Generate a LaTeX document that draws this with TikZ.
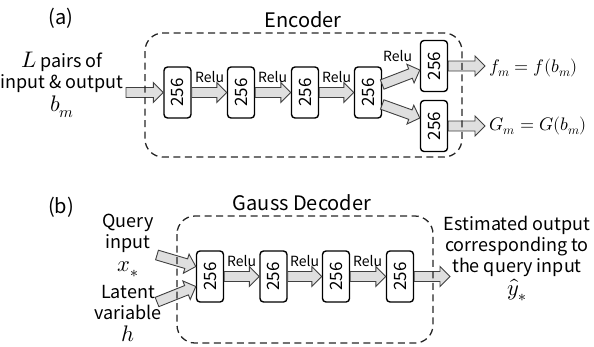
\documentclass[tikz,border=0pt]{standalone}
\usepackage{fontspec}
\usepackage{unicode-math}
\setmainfont{Noto Sans CJK JP}
\setmathfont{Latin Modern Math}[Scale=1.25]
\usetikzlibrary{calc}
\newcommand\barrow[2]{%
  \coordinate (bh) at ($(#2)!10pt!(#1)$);
  \draw[blk] ($(#1)!5pt!90:(#2)$) -- ($(bh)!5pt!-90:(#1)$) -- ($(bh)!10pt!-90:(#1)$) -- (#2)
    -- ($(bh)!10pt!90:(#1)$) -- ($(bh)!5pt!90:(#1)$) -- ($(#1)!5pt!-90:(#2)$) -- cycle;}
\begin{document}
\begin{tikzpicture}[x=1pt,y=-1pt,
  box/.style={draw=black, line width=1.4pt, rounded corners=3.5pt, fill=white, minimum width=27pt, minimum height=51pt, inner sep=0pt, font=\fontsize{17}{17}\selectfont},
  blk/.style={draw=black!75, line width=0.9pt, fill=gray!25, line join=miter},
  frame/.style={draw=black!85, line width=1.3pt, dash pattern=on 7pt off 4.5pt, rounded corners=18pt},
  lbl/.style={font=\fontsize{18}{21}\selectfont, align=center, inner sep=0pt},
  eqn/.style={font=\fontsize{14.5}{16}\selectfont, inner sep=0pt, anchor=west},
  ttl/.style={font=\fontsize{20}{22}\selectfont, inner sep=0pt},
  relu/.style={font=\fontsize{14}{14}\selectfont, inner sep=0pt, anchor=base west}]
\useasboundingbox (0,0) rectangle (594,346);
% ---------- (a) ----------
\node[ttl] (ta) at (61,18) {(a)};
\node[ttl] (enc) at (303,20) {Encoder};
\node[lbl] (ina) at (62,85) {$L$ pairs of\\input \& output\\[2pt]$b_m$};
\node[box] (a1) at (177.5,92.5) {\rotatebox{90}{256}};
\node[box] (a2) at (241,92.5) {\rotatebox{90}{256}};
\node[box] (a3) at (305,92.5) {\rotatebox{90}{256}};
\node[box] (a4) at (368,92.5) {\rotatebox{90}{256}};
\node[box] (a5) at (434,66) {\rotatebox{90}{256}};
\node[box] (a6) at (434,126) {\rotatebox{90}{256}};
\node[eqn] (fm) at (489,68) {$f_m = f(b_m)$};
\node[eqn] (gm) at (489,126) {$G_m = G(b_m)$};
\coordinate (ia) at (126,92.5);
\coordinate (o5) at (485,66);
\coordinate (o6) at (485,126);
\barrow{ia}{a1.west}
\barrow{a1.east}{a2.west}
\barrow{a2.east}{a3.west}
\barrow{a3.east}{a4.west}
\barrow{[yshift=8pt]a4.east}{[yshift=-4pt]a5.west}
\barrow{[yshift=-12pt]a4.east}{[yshift=8pt]a6.west}
\barrow{a5.east}{o5}
\barrow{a6.east}{o6}
\node[relu] (r1) at (195,82) {Relu};
\node[relu] (r2) at (258,82) {Relu};
\node[relu] (r3) at (322,82) {Relu};
\node[relu] (r4) at (383,61) {Relu};
\draw[frame] (145,33) rectangle (462,157);
% ---------- (b) ----------
\node[ttl] (tb) at (61,207) {(b)};
\node[ttl] (dec) at (302,203) {Gauss Decoder};
\node[lbl] (q) at (128,246) {Query\\input\\[2pt]$x_*$};
\node[lbl] (lt) at (128,314) {Latent\\variable\\[1pt]$h$};
\node[lbl] (est) at (517,259) {Estimated output\\corresponding to\\the query input\\[2pt]$\hat{y}_*$};
\node[box] (c1) at (210,276.5) {\rotatebox{90}{256}};
\node[box] (c2) at (273.5,276.5) {\rotatebox{90}{256}};
\node[box] (c3) at (336,276.5) {\rotatebox{90}{256}};
\node[box] (c4) at (400,276.5) {\rotatebox{90}{256}};
\coordinate (qs) at (157,255);
\coordinate (ls) at (157,302);
\coordinate (oc) at (450,276.5);
\barrow{qs}{[yshift=10pt]c1.west}
\barrow{ls}{[yshift=-10pt]c1.west}
\barrow{c1.east}{c2.west}
\barrow{c2.east}{c3.west}
\barrow{c3.east}{c4.west}
\barrow{c4.east}{oc}
\node[relu] (s1) at (227,266) {Relu};
\node[relu] (s2) at (290,266) {Relu};
\node[relu] (s3) at (353,266) {Relu};
\draw[frame] (177,216) rectangle (433,343);
\end{tikzpicture}
\end{document}
